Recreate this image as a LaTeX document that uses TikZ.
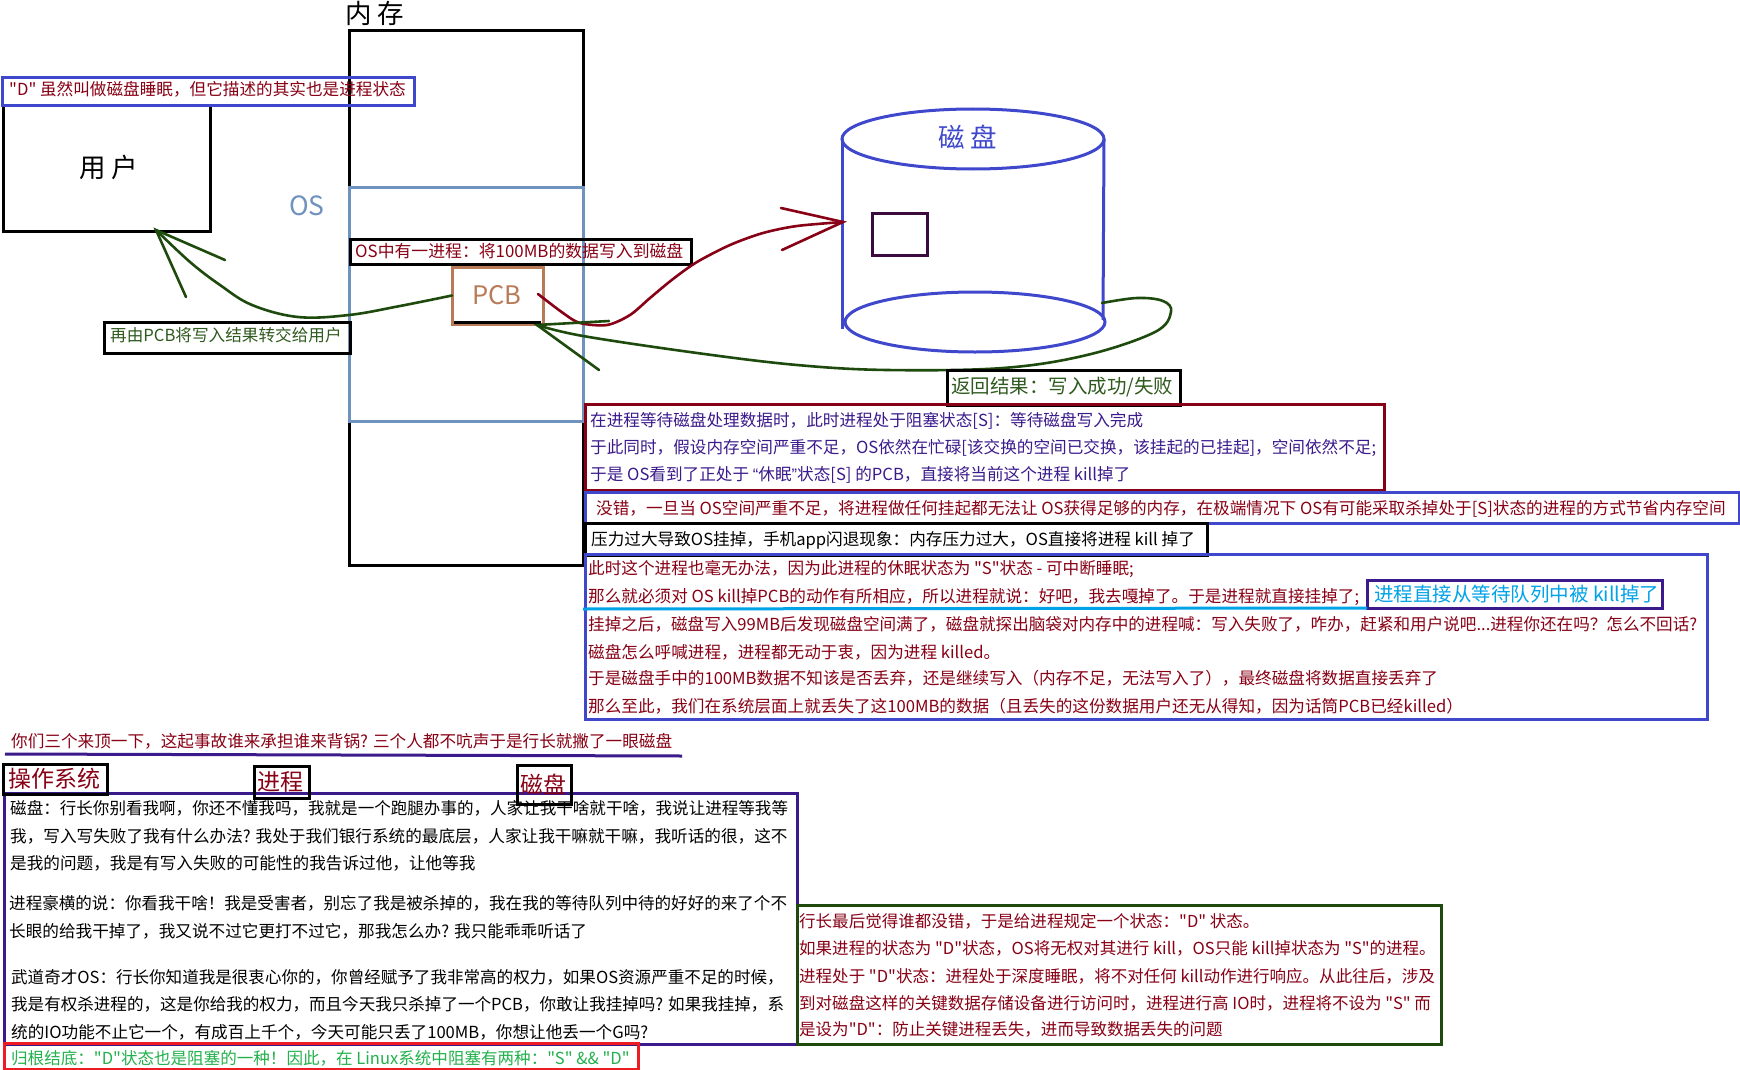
\documentclass[tikz,border=0pt]{standalone}
\usepackage{fontspec}
\usetikzlibrary{shapes.geometric}
\newfontfamily\cjkf{Noto Sans CJK SC}
\newfontfamily\latf{Liberation Sans}
\newcommand{\tsz}[1]{\cjkf\fontsize{#1}{#1}\selectfont}
\definecolor{dred}{HTML}{880015}
\definecolor{indigoB}{HTML}{3F48CC}
\definecolor{purpB}{HTML}{3B1A8C}
\definecolor{dgreen}{HTML}{1E4A0E}
\definecolor{tgreen}{HTML}{2F5A1E}
\definecolor{osblue}{HTML}{7092BE}
\definecolor{pcbbrown}{HTML}{B97A57}
\definecolor{skyB}{HTML}{00A2E8}
\definecolor{brightG}{HTML}{22B14C}
\definecolor{brightR}{HTML}{ED1C24}
\definecolor{plumB}{HTML}{3B0A3E}
\tikzset{
  rbox/.style n args={4}{draw=#1,line width=3pt,rectangle,inner sep=0pt,outer sep=0pt,minimum width=#2 pt,minimum height=#3 pt,anchor=north west},
  tline/.style={anchor=west,inner sep=0pt,text height=14.3pt,text depth=1.7pt,font=\tsz{16.62}},
  gline/.style={tline,dred,font=\tsz{16.52}},
  bigt/.style={anchor=center,inner sep=0pt,font=\tsz{26.5}},
  midt/.style={anchor=center,inner sep=0pt,font=\tsz{23}},
  redc/.style={line width=2.6pt,dred,line cap=round},
  grnc/.style={line width=2.6pt,dgreen,line cap=round},
}
\begin{document}
\begin{tikzpicture}[x=1pt,y=-1pt]
\useasboundingbox (0,0) rectangle (1740,1070);
\fill[white] (0,0) rectangle (1740,1070);
% memory
\node[rbox={black}{234}{535}{}] (mem) at (349.5,30.5) {};
\node[bigt] (memt) at (375,13) {内 存};
\node[rbox={osblue}{234}{234}{}] (osb) at (349.5,187) {};
\node[bigt,osblue] (ost) at (307,206) {OS};
% user
\node[rbox={black}{207}{125}{}] (user) at (3,106) {};
\node[bigt] (usert) at (109,167) {用 户};
\node[rbox={indigoB}{412}{28}{}] (dbox) at (2,78) {};
\node[tline,dred] (dt) at (9,89) {"D" 虽然叫做磁盘睡眠，但它描述的其实也是进程状态};
% PCB
\node[rbox={pcbbrown}{91}{57}{}] (pcb) at (452,267) {};
\node[bigt,pcbbrown,font=\tsz{25.5}] (pcbt) at (497,295) {PCB};
\coordinate (pl) at (454,322.5);
\coordinate (pr) at (541,322.5);
\draw[line width=3pt,black] (pl) -- (pr);
\node[rbox={black}{341}{25}{}] (osp) at (350,239) {};
\node[tline,dred,font=\tsz{16.85}] (ospt) at (355,251) {OS中有一进程：将100MB的数据写入到磁盘};
\node[rbox={black}{246}{31}{}] (pcbu) at (104,322) {};
\node[tline,tgreen] (pcbut) at (110,335) {再由PCB将写入结果转交给用户};
% disk
\node[draw=indigoB,line width=3pt,ellipse,minimum width=262pt,minimum height=60pt,inner sep=0pt,outer sep=0pt] (dtop) at (973,139) {};
\node[draw=indigoB,line width=3pt,ellipse,minimum width=260pt,minimum height=60pt,inner sep=0pt,outer sep=0pt] (dbot) at (975,322) {};
\coordinate (dlb) at (842,329);
\coordinate (drb) at (1103,320);
\draw[indigoB,line width=3pt] (dtop.west) -- (dlb);
\draw[indigoB,line width=3pt] (dtop.east) -- (drb);
\node[bigt,indigoB] (dtt) at (968,137) {磁 盘};
\node[rbox={plumB}{55}{42}{}] (dsq) at (872,213) {};
% write arrow
\coordinate (wtip) at (843,222);
\coordinate (wb1) at (781,208);
\coordinate (wb2) at (782,250);
\coordinate (wst) at (538,294);
\draw[redc] plot[smooth,tension=0.5] coordinates {(wst) (563,313) (580,323) (607,325) (630,315) (650,298) (673,279) (697,262) (730,245) (763,233) (797,226) (wtip)};
\draw[redc] (wb1) -- (wtip) -- (wb2);
% return arrow
\coordinate (rst) at (1102,303);
\coordinate (rtip) at (537,325);
\coordinate (rb1) at (609,321);
\coordinate (rb2) at (599,370);
\draw[grnc] plot[smooth,tension=0.6] coordinates {(rst) (1137,298) (1163,301) (1171,312) (1155,332) (1087,355) (1003,368) (887,370) (797,365) (697,353) (583,336) (rtip)};
\draw[grnc] (rb1) -- (rtip) -- (rb2);
% to user
\coordinate (utip) at (156,230);
\coordinate (ub1) at (225,260);
\coordinate (ub2) at (186,297);
\draw[grnc] plot[smooth,tension=0.6] coordinates {(pcb.west) (400,306) (349,315) (298,317) (252,305) (220,285) (190,262) (utip)};
\draw[grnc] (ub1) -- (utip) -- (ub2);
\node[rbox={black}{233}{35}{}] (ret) at (947,370) {};
\node[tline,tgreen,font=\tsz{19.5},text height=15.4pt,text depth=2.2pt] (rett) at (951,387) {返回结果：写入成功/失败};
% explanation boxes
\node[rbox={dred}{799}{86}{}] (b1) at (585,404) {};
\node[tline,purpB] (b1a) at (590,420) {在进程等待磁盘处理数据时，此时进程处于阻塞状态[S]：等待磁盘写入完成};
\node[tline,purpB] (b1b) at (590,447) {于此同时，假设内存空间严重不足，OS依然在忙碌[该交换的空间已交换，该挂起的已挂起]，空间依然不足;};
\node[tline,purpB] (b1c) at (590,474) {于是 OS看到了正处于 {\latf “}休眠{\latf ”}状态[S] 的PCB，直接将当前这个进程 kill掉了};
\node[rbox={indigoB}{1154}{31}{}] (b2) at (585,492) {};
\node[tline,dred] (b2a) at (596,508) {没错，一旦当 OS空间严重不足，将进程做任何挂起都无法让 OS获得足够的内存，在极端情况下 OS有可能采取杀掉处于[S]状态的进程的方式节省内存空间};
\node[rbox={black}{622}{32}{}] (b3) at (585,523) {};
\node[tline,black] (b3a) at (591,539) {压力过大导致OS挂掉，手机app闪退现象：内存压力过大，OS直接将进程 kill 掉了};
\node[rbox={indigoB}{1122}{165}{}] (b4) at (585,554) {};
\node[tline,dred] (b4a) at (588,568) {此时这个进程也毫无办法，因为此进程的休眠状态为 "S"状态 - 可中断睡眠;};
\node[tline,dred] (b4b) at (588,596) {那么就必须对 OS kill掉PCB的动作有所相应，所以进程就说：好吧，我去嘎掉了。于是进程就直接挂掉了;};
\node[tline,dred,font=\tsz{16.58}] (b4c) at (588,624) {挂掉之后，磁盘写入99MB后发现磁盘空间满了，磁盘就探出脑袋对内存中的进程喊：写入失败了，咋办，赶紧和用户说吧...进程你还在吗？怎么不回话?};
\node[tline,dred] (b4d) at (588,652) {磁盘怎么呼喊进程，进程都无动于衷，因为进程 killed。};
\node[tline,dred] (b4e) at (588,678) {于是磁盘手中的100MB数据不知该是否丢弃，还是继续写入（内存不足，无法写入了），最终磁盘将数据直接丢弃了};
\node[tline,dred] (b4f) at (588,706) {那么至此，我们在系统层面上就丢失了这100MB的数据（且丢失的这份数据用户还无从得知，因为话筒PCB已经killed）};
\node[rbox={purpB}{295}{28}{}] (killb) at (1367,580) {};
\node[tline,skyB,font=\tsz{19.5},text height=15.4pt,text depth=2.2pt] (killt) at (1374,595) {进程直接从等待队列中被 kill掉了};
\coordinate (ul) at (583,609);
\draw[skyB,line width=3pt] (ul) -- (killb.south west);
% bottom
\node[tline,dred] (ask) at (11,741) {你们三个来顶一下，这起事故谁来承担谁来背锅? 三个人都不吭声于是行长就撇了一眼磁盘};
\coordinate (asku) at (5,754);
\coordinate (askv) at (682,756);
\draw[purpB,line width=3pt] (asku) -- (askv);
\node[rbox={purpB}{793}{251}{}] (big) at (4,793) {};
\node[rbox={black}{104}{30}{}] (t1) at (3,764) {};
\node[midt,dred] (t1t) at (55,779) {操作系统};
\node[rbox={black}{55}{32}{}] (t2) at (254,766) {};
\node[midt,dred] (t2t) at (280,782) {进程};
\node[rbox={black}{54}{39}{}] (t3) at (517,765) {};
\node[midt,dred] (t3t) at (543,784) {磁盘};
\node[tline,font=\tsz{16.55}] (l1) at (10,808) {磁盘：行长你别看我啊，你还不懂我吗，我就是一个跑腿办事的，人家让我干啥就干啥，我说让进程等我等};
\node[tline] (l2) at (10,836) {我，写入写失败了我有什么办法? 我处于我们银行系统的最底层，人家让我干嘛就干嘛，我听话的很，这不};
\node[tline] (l3) at (10,863) {是我的问题，我是有写入失败的可能性的我告诉过他，让他等我};
\node[tline,font=\tsz{16.55}] (l4) at (9,903) {进程豪横的说：你看我干啥！我是受害者，别忘了我是被杀掉的，我在我的等待队列中待的好好的来了个不};
\node[tline] (l5) at (9,931) {长眼的给我干掉了，我又说不过它更打不过它，那我怎么办? 我只能乖乖听话了};
\node[tline,font=\tsz{16.55}] (l6) at (11,977) {武道奇才OS：行长你知道我是很衷心你的，你曾经赋予了我非常高的权力，如果OS资源严重不足的时候，};
\node[tline,font=\tsz{16.55}] (l7) at (11,1004) {我是有权杀进程的，这是你给我的权力，而且今天我只杀掉了一个PCB，你敢让我挂掉吗? 如果我挂掉，系};
\node[tline] (l8) at (11,1032) {统的IO功能不止它一个，有成百上千个，今天可能只丢了100MB，你想让他丢一个G吗?};
\node[rbox={brightR}{634}{26}{}] (rootb) at (4,1043) {};
\node[tline,brightG,font=\tsz{16.55}] (roott) at (11,1058) {归根结底："D"状态也是阻塞的一种！因此，在 Linux系统中阻塞有两种："S" \&\& "D"};
\node[rbox={dgreen}{644}{139}{}] (gb) at (797,905) {};
\node[gline] (g1) at (799,921) {行长最后觉得谁都没错，于是给进程规定一个状态："D" 状态。};
\node[gline] (g2) at (799,948) {如果进程的状态为 "D"状态，OS将无权对其进行 kill，OS只能 kill掉状态为 "S"的进程。};
\node[gline] (g3) at (799,976) {进程处于 "D"状态：进程处于深度睡眠，将不对任何 kill动作进行响应。从此往后，涉及};
\node[gline] (g4) at (799,1003) {到对磁盘这样的关键数据存储设备进行访问时，进程进行高 IO时，进程将不设为 "S" 而};
\node[gline] (g5) at (799,1029) {是设为"D"：防止关键进程丢失，进而导致数据丢失的问题};
\end{tikzpicture}
\end{document}
